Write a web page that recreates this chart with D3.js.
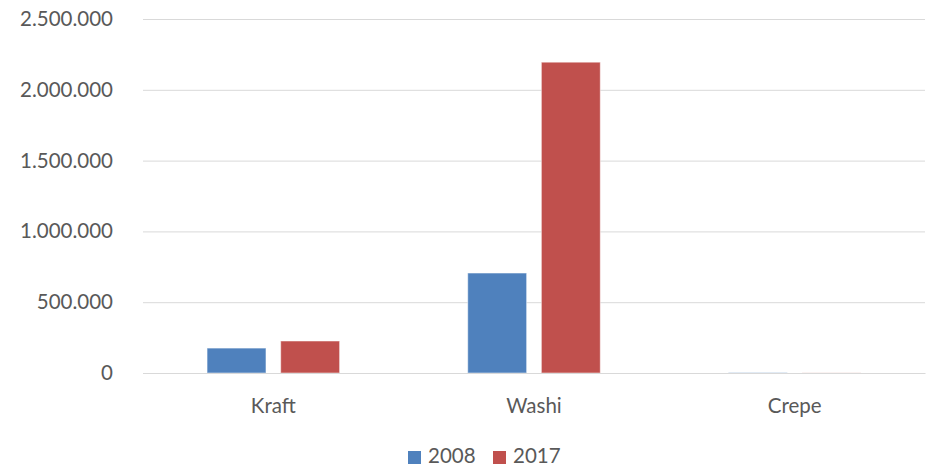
<!DOCTYPE html>
<html><head><meta charset="utf-8">
<script src="https://cdn.jsdelivr.net/npm/d3@7"></script>
<style>body{margin:0;background:#fff;} text{font-family:Lato, "Open Sans", sans-serif;fill:#595959;}</style>
</head><body><svg id="c" width="930" height="467"></svg>
<script>
const categories = ["Kraft", "Washi", "Crepe"];
const seriesNames = ["2008", "2017"];
const values2008 = [176000, 706000, 2000];
const values2017 = [226000, 2195000, 800];
const yTicks = [0, 500000, 1000000, 1500000, 2000000, 2500000];
const colors = ["#4F81BD", "#C0504D"];

(function(){
const svg = d3.select("#c");
const mLeft = 143, mRight = 925, mTop = 19, mBottom = 373;
const fs = "20.5px";
const x = d3.scaleBand().domain(categories).range([mLeft, mRight]);
const xs = d3.scaleBand().domain(seriesNames).range([0, x.bandwidth()]).paddingInner(0.2).paddingOuter(0.87);
const y = d3.scaleLinear().domain([0, 2500000]).range([mBottom, mTop]);
const fmt = v => d3.format(",")(v).replace(/,/g, ".");

const gy = svg.append("g").attr("transform", `translate(${mLeft},0)`)
  .call(d3.axisLeft(y).tickValues(yTicks).tickSize(-(mRight-mLeft)).tickPadding(30).tickFormat(fmt));
gy.select(".domain").remove();
gy.selectAll(".tick line").attr("stroke", "#d9d9d9").attr("stroke-width", 1);
gy.selectAll(".tick text").style("font-size", fs).attr("fill", "#595959");

const data = [values2008, values2017];
categories.forEach((c, i) => {
  seriesNames.forEach((s, j) => {
    const v = data[j][i];
    svg.append("rect")
      .attr("x", x(c) + xs(s)).attr("width", xs.bandwidth())
      .attr("y", y(v)).attr("height", mBottom - y(v))
      .attr("fill", colors[j]).attr("stroke", "#ffffff").attr("stroke-opacity", 0.5).attr("stroke-width", 1);
  });
});

const gx = svg.append("g").attr("transform", `translate(0,${mBottom})`)
  .call(d3.axisBottom(x).tickSize(0).tickPadding(25));
gx.select(".domain").attr("stroke", "#d9d9d9").attr("stroke-width", 1);
gx.selectAll(".tick text").style("font-size", fs).attr("fill", "#595959");

const legend = svg.append("g");
const lx = [408, 493];
seriesNames.forEach((s, j) => {
  legend.append("rect").attr("x", lx[j]).attr("y", 451).attr("width", 13).attr("height", 13).attr("fill", colors[j]);
  legend.append("text").attr("x", lx[j] + 20).attr("y", 463).style("font-size", fs).text(s);
});
})();
</script></body></html>
